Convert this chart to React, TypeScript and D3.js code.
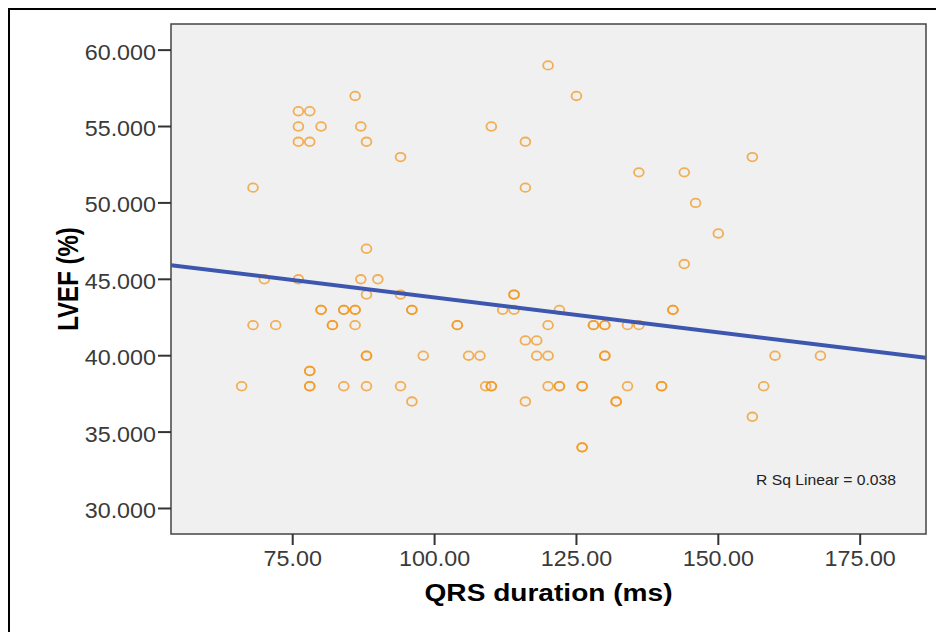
import React from "react";
import * as d3 from "d3";

// QRS duration (ms) and LVEF (%) per patient (repeats = overlapping rings)
const qrs = [
  68, 66, 68, 72, 70, 76, 78, 76, 80, 76, 78, 76, 80, 80, 78, 78, 78, 78, 82, 82,
  84, 84, 86, 86, 86, 84, 86, 87, 88, 88, 87, 90, 88, 88, 88, 88, 94, 94, 94, 96,
  96, 96, 98, 104, 104, 106, 108, 109, 110, 110, 110, 112, 114, 114, 114, 116, 116, 116, 118, 116,
  118, 120, 120, 120, 120, 122, 122, 122, 125, 126, 126, 126, 126, 128, 128, 130, 130, 130, 130, 132,
  132, 134, 136, 134, 136, 140, 140, 142, 142, 144, 144, 146, 150, 156, 156, 158, 160, 168,
];
const lvef = [
  51, 38, 42, 42, 45, 56, 56, 55, 55, 54, 54, 45, 43, 43, 39, 39, 38, 38, 42, 42,
  43, 43, 43, 43, 42, 38, 57, 55, 54, 47, 45, 45, 44, 40, 40, 38, 53, 44, 38, 43,
  43, 37, 40, 42, 42, 40, 40, 38, 38, 38, 55, 43, 43, 44, 44, 54, 51, 41, 41, 37,
  40, 40, 42, 38, 59, 43, 38, 38, 57, 38, 38, 34, 34, 42, 42, 42, 42, 40, 40, 37,
  37, 42, 42, 38, 52, 38, 38, 43, 43, 52, 46, 50, 48, 53, 36, 38, 40, 40,
];

const xTicks = [75, 100, 125, 150, 175];
const yTicks = [30, 35, 40, 45, 50, 55, 60];

// fit line as drawn (SPSS "R Sq Linear")
const fitIntercept = 48.37;
const fitSlope = -0.0456;
const rSquared = 0.038;

const font = "Arial, 'Liberation Sans', sans-serif";

function App() {
  const width = 936;
  const height = 632;
  const plot = { left: 171, top: 24, right: 926, bottom: 534 };

  const xScale = d3.scaleLinear().domain([53.55, 186.6]).range([plot.left, plot.right]);
  const yScale = d3.scaleLinear().domain([28.33, 61.71]).range([plot.bottom, plot.top]);

  const points = qrs.map((q, i) => [q, lvef[i]]);

  const xDom = xScale.domain();
  const fit = [xDom[0], xDom[1]].map((x) => [x, fitIntercept + fitSlope * x]);
  const fitLine = d3.line().x((d) => xScale(d[0])).y((d) => yScale(d[1]));

  // the source image is a little stretched sideways
  const stretch = 1.06;

  return (
    <svg width={width} height={height} style={{ position: "absolute", left: 0, top: 0 }}>
      <rect width={width} height={height} fill="white" />
      <rect x={9} y={9} width={width + 20} height={height + 20} fill="none" stroke="black" strokeWidth={2} />

      <defs>
        <clipPath id="plot-clip">
          <rect x={plot.left} y={plot.top} width={plot.right - plot.left} height={plot.bottom - plot.top} />
        </clipPath>
      </defs>

      <rect x={plot.left} y={plot.top} width={plot.right - plot.left} height={plot.bottom - plot.top}
        fill="#f0f0f0" stroke="#444" strokeWidth={1.5} />

      <g clipPath="url(#plot-clip)">
        {points.map((d, i) => (
          <ellipse key={i} cx={xScale(d[0])} cy={yScale(d[1])} rx={4.9} ry={4.3}
            fill="none" stroke="#f29418" strokeOpacity={0.72} strokeWidth={1.8} />
        ))}
        <path d={fitLine(fit)} stroke="#3d57b0" strokeWidth={4} fill="none" />
      </g>

      <text transform="translate(896,485) scale(1.12,1)" textAnchor="end" fontFamily={font} fontSize={14} fill="#222">
        {`R Sq Linear = ${rSquared.toFixed(3)}`}
      </text>

      <g className="y-axis">
        {yTicks.map((t) => (
          <g key={t} transform={`translate(0,${yScale(t)})`}>
            <path d={`M${plot.left - 13} 0 H${plot.left}`} stroke="#333" strokeWidth={2} />
            <text transform={`translate(156,9.5) scale(${stretch},1)`} textAnchor="end" fontFamily={font}
              fontSize={22} fill="#3a3a3a">
              {d3.format(".3f")(t)}
            </text>
          </g>
        ))}
      </g>

      <g className="x-axis">
        {xTicks.map((t) => (
          <g key={t} transform={`translate(${xScale(t)},0)`}>
            <path d={`M0 ${plot.bottom} V${plot.bottom + 11}`} stroke="#333" strokeWidth={2} />
            <text transform={`translate(0,566) scale(${stretch},1)`} textAnchor="middle" fontFamily={font}
              fontSize={22} fill="#3a3a3a">
              {d3.format(".2f")(t)}
            </text>
          </g>
        ))}
      </g>

      <text transform={`translate(${(plot.left + plot.right) / 2},601) scale(1.17,1)`} textAnchor="middle"
        fontFamily={font} fontSize={24} fontWeight="bold" fill="black">
        QRS duration (ms)
      </text>
      <text transform={`translate(78,${(plot.top + plot.bottom) / 2}) scale(1.22,1) rotate(-90)`} textAnchor="middle"
        fontFamily={font} fontSize={24} fontWeight="bold" fill="black">
        LVEF (%)
      </text>
    </svg>
  );
}

export default App;
